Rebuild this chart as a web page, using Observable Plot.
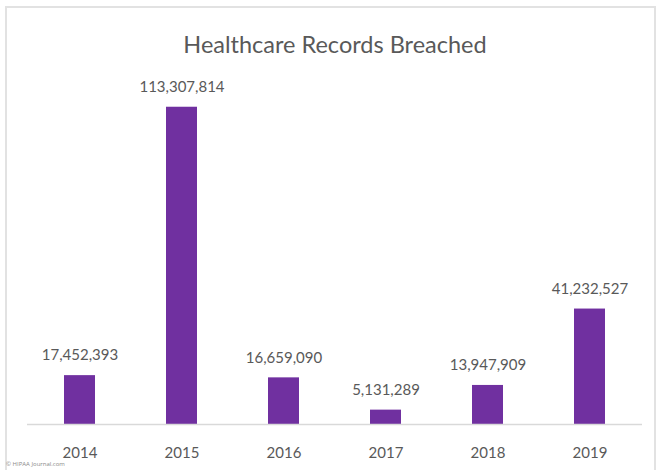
<!DOCTYPE html>
<html>
<head>
<meta charset="utf-8">
<script src="https://cdn.jsdelivr.net/npm/d3@7"></script>
<script src="https://cdn.jsdelivr.net/npm/@observablehq/plot@0.6"></script>
<style>
  html, body { margin: 0; padding: 0; background: #fff; }
  #wrap { position: relative; width: 657px; height: 470px; overflow: hidden; }
  #border { position: absolute; left: 5px; top: 6px; width: 651px; height: 470px; border: 2px solid #e2e2e2; box-sizing: border-box; pointer-events: none; }
  #caption { position: absolute; left: 6px; top: 460px; font: 6px "Open Sans", sans-serif; color: #8a8a8a; }
  svg { position: absolute; left: 0; top: 0; }
</style>
</head>
<body>
<div id="wrap">
  <div id="chart"></div>
  <div id="border"></div>
  <div id="caption">© HIPAA Journal.com</div>
</div>
<script>
const title = "Healthcare Records Breached";
const years = ["2014", "2015", "2016", "2017", "2018", "2019"];
const records = [17452393, 113307814, 16659090, 5131289, 13947909, 41232527];

const data = years.map((y, i) => ({year: y, value: records[i]}));
const fmt = d3.format(",");
const font = "Lato, 'Open Sans', sans-serif";

const chart = Plot.plot({
  width: 657,
  height: 470,
  marginLeft: 27,
  marginRight: 15,
  marginTop: 60,
  marginBottom: 46,
  style: {fontFamily: font, background: "transparent", overflow: "visible"},
  x: {domain: years, paddingInner: 0.7, paddingOuter: 0.35, label: null},
  y: {domain: [0, 130000000], axis: null},
  marks: [
    Plot.barY(data, {x: "year", y: "value", fill: "#7030a0"}),
    Plot.ruleY([0], {stroke: "#d9d9d9", strokeWidth: 1.5}),
    Plot.text(data, {x: "year", y: "value", text: d => fmt(d.value), dy: -20, fontSize: 15, fill: "#595959", lineAnchor: "middle"}),
    Plot.axisX({tickSize: 0, tickPadding: 23, fontSize: 15, fill: "#595959", label: null}),
    Plot.text([title], {frameAnchor: "top", dy: -15, fontSize: 23.5, fill: "#595959", lineAnchor: "middle"})
  ]
});
document.getElementById("chart").appendChild(chart);
</script>
</body>
</html>
